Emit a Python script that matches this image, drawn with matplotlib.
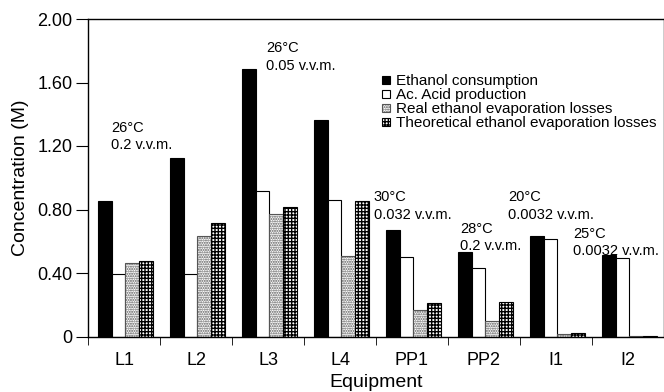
import numpy as np
import matplotlib
matplotlib.use("Agg")
import matplotlib.pyplot as plt
from matplotlib.patches import Patch

plt.rcParams['font.family'] = ['Liberation Sans', 'DejaVu Sans']
plt.rcParams['hatch.linewidth'] = 1.0

# data
equipment = ['L1', 'L2', 'L3', 'L4', 'PP1', 'PP2', 'I1', 'I2']
ethanol_consumption = [0.855, 1.126, 1.688, 1.362, 0.672, 0.535, 0.634, 0.512]
acid_production = [0.394, 0.392, 0.914, 0.857, 0.503, 0.432, 0.615, 0.495]
real_losses = [0.466, 0.632, 0.773, 0.508, 0.167, 0.100, 0.014, 0.006]
theoretical_losses = [0.478, 0.714, 0.815, 0.855, 0.209, 0.216, 0.020, 0.004]
series_names = ['Ethanol consumption', 'Ac. Acid production',
                'Real ethanol evaporation losses',
                'Theoretical ethanol evaporation losses']
conditions = ['26°C\n0.2 v.v.m.', '26°C\n0.05 v.v.m.', '30°C\n0.032 v.v.m.',
              '28°C\n0.2 v.v.m.', '20°C\n0.0032 v.v.m.', '25°C\n0.0032 v.v.m.']
y_ticks = [0, 0.4, 0.8, 1.2, 1.6, 2.0]

fig = plt.figure(figsize=(6.64, 3.92), dpi=100)
ax = fig.add_axes([88 / 664, (392 - 336.5) / 392, 576 / 664, 317.5 / 392])

x = np.arange(len(equipment)) + 0.5
w = 0.19
styles = [dict(facecolor='black', edgecolor='black'),
          dict(facecolor='white', edgecolor='black'),
          dict(facecolor='white', edgecolor='#555555', hatch='.......'),
          dict(facecolor='white', edgecolor='black', hatch='+++++')]
all_series = [ethanol_consumption, acid_production, real_losses, theoretical_losses]
for i, (vals, st) in enumerate(zip(all_series, styles)):
    ax.bar(x + (i - 1.5) * w + 0.02, vals, w, linewidth=0.8, **st)

ax.set_xlim(0, 8)
ax.set_ylim(0, 2.0)
ax.set_yticks(y_ticks)
ax.set_yticklabels(['0'] + ['%.2f' % v for v in y_ticks[1:]])
ax.set_xticks(x)
ax.set_xticklabels(equipment)
ax.set_xticks(np.arange(0, 9), minor=True)
ax.tick_params(axis='x', which='major', length=0, labelsize=13, pad=11)
ax.tick_params(axis='x', which='minor', length=6, direction='out')
ax.tick_params(axis='y', labelsize=13, length=9, direction='out', pad=2)
for s in ax.spines.values():
    s.set_linewidth(1.0)

ax.set_ylabel('Concentration (M)', fontsize=14, labelpad=6)
ax.set_xlabel('Equipment', fontsize=14, labelpad=4)

# condition notes
note_pos = [(0.32, 1.36), (2.47, 1.86), (3.97, 0.92), (5.17, 0.72), (5.83, 0.92), (6.74, 0.69)]
for txt, (tx, ty) in zip(conditions, note_pos):
    ax.text(tx, ty, txt, fontsize=10.5, ha='left', va='top', linespacing=1.3)

handles = [Patch(label=n, linewidth=0.8, **st) for n, st in zip(series_names, styles)]
ax.legend(handles=handles, loc='upper left', bbox_to_anchor=(0.5, 0.845), frameon=False,
          fontsize=11, handlelength=0.5, handleheight=0.5, handletextpad=0.4,
          labelspacing=0.0, borderaxespad=0)

fig.savefig('out.png', dpi=100)
